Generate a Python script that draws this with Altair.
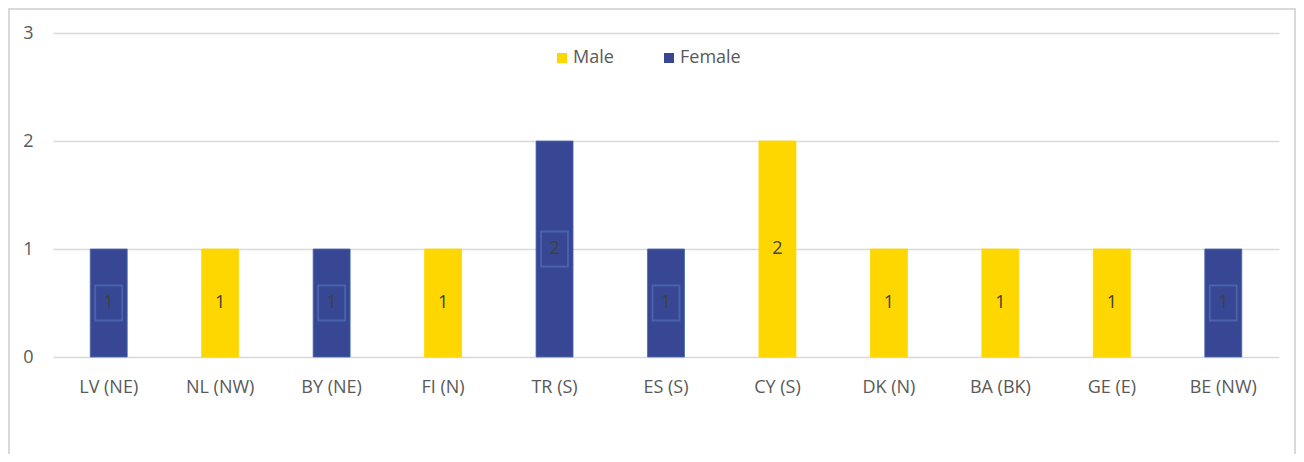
import altair as alt
import pandas as pd

categories = ["LV (NE)", "NL (NW)", "BY (NE)", "FI (N)", "TR (S)", "ES (S)",
              "CY (S)", "DK (N)", "BA (BK)", "GE (E)", "BE (NW)"]
male = [0, 1, 0, 1, 0, 0, 2, 1, 1, 1, 0]
female = [1, 0, 1, 0, 2, 1, 0, 0, 0, 0, 1]
series = ["Male", "Female"]
colors = ["#FFD700", "#374794"]

rows = []
for c, m, f in zip(categories, male, female):
    rows.append({"cat": c, "gender": "Male", "value": m})
    rows.append({"cat": c, "gender": "Female", "value": f})
df = pd.DataFrame(rows)

FONT = "Open Sans"
FS = 18
x_scale = alt.Scale(domain=categories, paddingInner=0.668, paddingOuter=0.334)
y_scale = alt.Scale(domain=[0, 3], nice=False)

base = alt.Chart(df).transform_filter("datum.value > 0")

bars = base.mark_bar(strokeWidth=0.8).encode(
    x=alt.X("cat:N", scale=x_scale, sort=categories,
            axis=alt.Axis(title=None, labelAngle=0, ticks=False, domain=False,
                          labelPadding=21, labelFontSize=FS, labelColor="#595959",
                          labelFont=FONT, grid=False)),
    y=alt.Y("value:Q", scale=y_scale, stack="zero",
            axis=alt.Axis(title=None, values=[0, 1, 2, 3], format="d", ticks=False,
                          domain=False, labelPadding=20, labelFontSize=FS,
                          labelColor="#595959", labelFont=FONT, grid=True,
                          gridColor="#d9d9d9", gridWidth=1.5)),
    color=alt.Color("gender:N", scale=alt.Scale(domain=series, range=colors),
                    legend=alt.Legend(title=None, orient="none", direction="horizontal",
                                      legendX=500, legendY=16, symbolType="square",
                                      symbolSize=100, symbolStrokeWidth=0,
                                      labelFontSize=FS, labelColor="#595959",
                                      labelFont=FONT, labelOffset=2,
                                      columnPadding=46, padding=0)),
    stroke=alt.condition("datum.gender == 'Female'", alt.value("#4a6cb3"),
                         alt.value("#FFD700")),
)

boxes = base.transform_filter("datum.gender == 'Female'").transform_calculate(
    mid="datum.value / 2"
).mark_point(
    shape="M-0.77,-1L0.77,-1L0.77,1L-0.77,1Z", size=1225, filled=False,
    stroke="#4a64ac", strokeWidth=1.8, opacity=1
).encode(
    x=alt.X("cat:N", scale=x_scale, sort=categories),
    y=alt.Y("mid:Q", scale=y_scale),
)

labels = base.transform_calculate(mid="datum.value / 2").mark_text(
    font=FONT, fontSize=FS, color="#404040", baseline="middle", align="center"
).encode(
    x=alt.X("cat:N", scale=x_scale, sort=categories),
    y=alt.Y("mid:Q", scale=y_scale),
    text=alt.Text("value:Q"),
)

one = alt.Data(values=[{"k": 1}])
border_left = alt.Chart(one).mark_rule(color="#d9d9d9", strokeWidth=2).encode(
    x=alt.value(-44), y=alt.value(-25), y2=alt.value(500))
border_right = alt.Chart(one).mark_rule(color="#d9d9d9", strokeWidth=2).encode(
    x=alt.value(1242), y=alt.value(-25), y2=alt.value(500))
border_top = alt.Chart(one).mark_rule(color="#d9d9d9", strokeWidth=2).encode(
    x=alt.value(-45), x2=alt.value(1243), y=alt.value(-24))

chart = alt.layer(bars, boxes, labels, border_left, border_right, border_top).properties(
    width=1226, height=324,
    background="white",
    autosize=alt.AutoSizeParams(type="none"),
    padding={"left": 45, "top": 25, "right": 17, "bottom": 97},
).configure_view(strokeWidth=0)

chart.save("out.html", embed_options={"renderer": "svg", "actions": False})
